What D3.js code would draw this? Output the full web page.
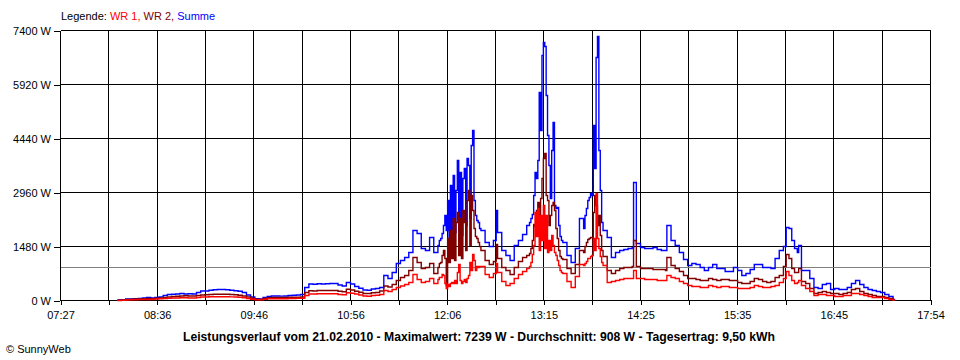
<!DOCTYPE html>
<html><head><meta charset="utf-8">
<script src="https://cdn.jsdelivr.net/npm/d3@7"></script>
<style>
html,body{margin:0;padding:0;background:#fff;}
svg{display:block;font-family:"Liberation Sans",Arial,sans-serif;}
</style></head><body>
<svg id="chart" width="960" height="360"></svg>
<script>
// ---- data ----
const times = [
 "08:08","08:11","08:14","08:17","08:20","08:23","08:26","08:29","08:32","08:35",
 "08:38","08:41","08:44","08:47","08:50","08:53","08:56","08:59","09:02","09:05",
 "09:08","09:11","09:14","09:17","09:20","09:23","09:26","09:29","09:32","09:35",
 "09:38","09:41","09:44","09:47","09:50","09:53","09:56","09:59","10:02","10:05",
 "10:08","10:11","10:14","10:17","10:20","10:23","10:26","10:29","10:32","10:35",
 "10:38","10:41","10:44","10:47","10:50","10:53","10:56","10:59","11:02","11:05",
 "11:08","11:11","11:14","11:17","11:20","11:23","11:26","11:29","11:32","11:35",
 "11:38","11:41","11:44","11:47","11:50","11:53","11:56","11:59",
 "12:00","12:01","12:02","12:03","12:04","12:05","12:06","12:07","12:08","12:09",
 "12:10","12:11","12:12","12:13","12:14","12:15","12:16","12:17","12:18","12:19",
 "12:20","12:21","12:22","12:23","12:24","12:25","12:26","12:27","12:28","12:29","12:30",
 "12:33","12:36","12:39","12:41","12:42","12:45","12:48","12:51","12:54","12:57","13:00","13:03",
 "13:05","13:06","13:07","13:08","13:09","13:10","13:11","13:12","13:13","13:14",
 "13:15","13:16","13:17","13:18","13:19","13:20","13:21","13:22","13:23","13:24",
 "13:25","13:26","13:27","13:28","13:29",
 "13:32","13:35","13:38","13:41","13:44",
 "13:45","13:46","13:47","13:48","13:49","13:50","13:51","13:52","13:53","13:54","13:55","13:56","13:57","13:58",
 "14:01","14:04","14:07","14:10","14:13","14:16","14:19","14:20","14:22","14:25",
 "14:28","14:31","14:34","14:37","14:40","14:43","14:44","14:47","14:50","14:53","14:56","14:59",
 "15:02","15:05","15:08","15:11","15:14","15:17","15:20","15:23","15:26","15:29",
 "15:32","15:35","15:38","15:41","15:44","15:47","15:50","15:53","15:56","15:59",
 "16:02","16:05","16:08","16:10","16:12","16:14","16:16","16:18","16:19","16:21",
 "16:24","16:27","16:30","16:33","16:36","16:39","16:42","16:45","16:48","16:51","16:54","16:57",
 "17:00","17:03","17:06","17:09","17:12","17:15","17:18","17:21","17:24","17:27","17:28"
];
const summe = [
 14,19,41,41,49,55,69,82,69,82, 96,137,164,173,178,192,178,184,178,219,
 260,260,282,293,302,302,293,282,266,252, 219,151,96,47,41,82,110,123,123,121,
 123,137,145,151,164,356,452,444,458,452, 458,466,466,425,397,493,452,384,334,288,
 282,315,329,356,685,603,767,1014,1096,1179, 1316,1919,1836,1425,1371,1727,1316,1508,
 1645,1699,1836,2056,2330,1919,2741,1590,3152,1699, 3426,1864,3015,3837,2138,3508,1782,3344,3618,2056,
 3892,3700,2248,4249,4660,2741,2330,2193,2138,1974,1919,
 1590,1480,1645,2467,1864,1371,1233,1096,1508,1645,1809,2056,
 2138,2248,2357,2878,3508,3344,3837,5701,4660,6715, 7072,6962,5619,4523,3700,2796,4112,4879,2604,2522,
 2549,2056,1754,1645,1590,
 1233,1042,1425,2248,1974,
 2330,2522,2741,2823,2933,2878,4797,3618,6661,7239,4112,3015,2138,1919,
 1727,1179,1316,1371,1398,1425,1453,3234,1562,1453, 1425,1425,1453,1398,1371,1371,2056,1645,1508,1316,1124,959,
 1014,987,905,822,905,987,877,877,795,795, 905,822,685,740,850,987,987,905,905,877,
 1151,1371,1480,2001,1974,1645,1425,1316,1508,822, 822,603,356,329,439,466,302,329,302,302,356,466,
 548,439,356,302,274,247,219,164,110,27,0
];
const wr2 = [
 5,14,27,36,41,41,47,55,47,60, 69,82,96,110,115,123,129,123,123,137,
 151,156,164,170,173,173,170,164,156,143, 123,96,60,33,27,55,74,82,82,82,
 82,88,90,90,96,219,269,260,274,274, 274,274,274,255,241,310,288,252,225,192,
 192,211,219,260,397,370,439,548,630,685, 822,1179,1042,877,905,1014,740,905,
 1014,1042,1233,1371,1151,411,1699,1042,1919,1151, 2248,1096,2138,2412,1233,2248,1151,2467,2138,1371,
 2741,3015,1508,2878,2467,1974,1754,1699,1590,1480,1371,
 1096,987,1069,1535,1151,905,822,713,905,1069,1179,1233,
 1288,1425,1645,2083,2028,2467,2686,2056,2796,3344, 3892,4029,2878,2741,2056,2330,2604,2686,2467,1974,
 1699,1371,1206,1151,1124,
 877,740,987,1371,1316,
 1480,1590,1672,1699,1727,1727,2412,2878,2604,2056,2330,1782,1371,1206,
 822,740,822,877,905,905,932,1645,932,877, 877,877,850,850,850,822,1179,959,877,795,685,603,
 603,576,548,548,603,576,548,576,576,548, 548,493,466,466,521,603,576,521,493,521,
 630,685,932,1261,1151,877,767,767,877,521, 466,329,192,219,247,219,192,192,164,192,219,302,
 329,247,192,164,137,110,110,82,55,14,0
];
const wr1 = [
 0,5,14,19,22,27,27,27,27,41, 47,55,60,69,69,74,74,69,69,82,
 96,96,101,104,104,104,101,99,96,88, 74,55,33,19,16,33,47,49,49,47,
 49,55,55,60,63,137,178,178,184,184, 184,184,184,164,156,211,200,178,151,123,
 115,137,143,164,274,247,302,356,397,439, 493,713,576,493,521,603,466,576,
 630,630,713,685,466,329,439,384,466,493, 466,548,466,767,987,548,466,521,576,493,
 603,685,1042,822,1261,1096,822,932,905,932,932,
 713,630,740,1014,767,521,411,466,603,713,795,877,
 932,1042,1261,1508,2412,1754,2522,1371,2330,1645, 2604,1425,2330,1316,1645,1371,1782,1508,1316,1233,
 1096,959,822,767,740,
 521,356,658,987,959,
 1014,1069,1151,1151,1206,1233,1699,1371,2933,1699,1425,1206,1042,959,
 493,521,548,576,603,603,603,822,603,603, 576,576,576,548,548,548,685,630,603,521,466,411,
 384,384,356,356,411,384,356,384,384,356, 356,329,329,329,356,411,384,356,356,384,
 411,493,603,795,685,548,466,493,548,411, 329,247,137,164,164,137,137,110,110,137,137,192,
 192,164,137,110,82,82,82,55,27,11,0
];
const xTickLabels = ["07:27","08:36","09:46","10:56","12:06","13:15","14:25","15:35","16:45","17:54"];
const yTickValues = [0,1480,2960,4440,5920,7400];
const average = 908;
const legendItems = [
  {text:"Legende: ", color:"#000000"},
  {text:"WR 1, ", color:"#ff0000"},
  {text:"WR 2, ", color:"#800000"},
  {text:"Summe", color:"#0000ff"}
];
const seriesDefs = [
  {name:"Summe", values:summe, color:"#0000ff"},
  {name:"WR 2", values:wr2, color:"#800000"},
  {name:"WR 1", values:wr1, color:"#ff0000"}
];
const titleText = "Leistungsverlauf vom 21.02.2010 - Maximalwert: 7239 W - Durchschnitt: 908 W - Tagesertrag: 9,50 kWh";
const copyrightText = "\u00A9 SunnyWeb";

// ---- drawing ----
const parseT = s => { const p = s.split(":").map(Number); return p[0]*60 + p[1]; };
const svg = d3.select("#chart");
const t0 = parseT(xTickLabels[0]), t1 = parseT(xTickLabels[xTickLabels.length-1]);
const x = d3.scaleLinear().domain([t0, t1]).range([60.5, 930.5]);
const y = d3.scaleLinear().domain([0, d3.max(yTickValues)]).range([300.5, 30.5]);
const nGrid = (xTickLabels.length - 1) * 2;
const gridT = d3.range(nGrid + 1).map(i => t0 + i * (t1 - t0) / nGrid);

const g = svg.append("g");
g.selectAll("line.hg").data(yTickValues).join("line")
  .attr("x1", x(t0)).attr("x2", x(t1)).attr("y1", d => y(d)).attr("y2", d => y(d))
  .attr("stroke", "#000").attr("stroke-width", 1).attr("shape-rendering", "crispEdges");
g.selectAll("line.vg").data(gridT).join("line")
  .attr("x1", d => x(d)).attr("x2", d => x(d)).attr("y1", y(d3.max(yTickValues))).attr("y2", y(0))
  .attr("stroke", "#000").attr("stroke-width", 1).attr("shape-rendering", "crispEdges");
g.append("line").attr("x1", x(t0)).attr("x2", x(t1)).attr("y1", y(average)).attr("y2", y(average))
  .attr("stroke", "#808080").attr("stroke-width", 1).attr("shape-rendering", "crispEdges");

const xAxis = d3.axisBottom(x).tickValues(gridT).tickSize(5).tickPadding(6)
  .tickFormat((d, i) => i % 2 === 0 ? xTickLabels[i/2] : "");
const xa = svg.append("g").attr("transform", "translate(0,300)").call(xAxis);
xa.select(".domain").remove();
xa.selectAll(".tick line").attr("stroke", "#000").attr("shape-rendering", "crispEdges");
xa.selectAll(".tick text").attr("fill", "#000").style("font-size", "11px")
  .style("font-family", '"Liberation Sans",Arial,sans-serif');

const yAxis = d3.axisLeft(y).tickValues(yTickValues).tickSize(6).tickPadding(3)
  .tickFormat(d => d + " W");
const ya = svg.append("g").call(yAxis);
ya.attr("transform", "translate(" + (x(t0) - 0.5) + ",0)");
ya.select(".domain").remove();
ya.selectAll(".tick line").attr("stroke", "#000").attr("shape-rendering", "crispEdges");
ya.selectAll(".tick text").attr("fill", "#000").style("font-size", "11px")
  .style("font-family", '"Liberation Sans",Arial,sans-serif');

const n = Math.min(times.length, summe.length, wr1.length, wr2.length);
const line = d3.line().x(d => x(d.t)).y(d => y(d.v)).curve(d3.curveStepAfter);
seriesDefs.forEach(s => {
  const pts = d3.range(n).map(i => ({t: parseT(times[i]), v: s.values[i]}));
  svg.append("path").datum(pts).attr("d", line)
    .attr("fill", "none").attr("stroke", s.color).attr("stroke-width", 1.4)
    .attr("stroke-linejoin", "miter");
});

const lt = svg.append("text").attr("x", 61).attr("y", 20).attr("style", "font-size:11px;white-space:pre");
lt.selectAll("tspan").data(legendItems).join("tspan")
  .attr("fill", d => d.color).text(d => d.text);

svg.append("text").attr("x", 479).attr("y", 341).attr("text-anchor", "middle")
  .style("font-size", "12px").style("font-weight", "bold")
  .attr("textLength", 592).attr("lengthAdjust", "spacingAndGlyphs")
  .text(titleText);
svg.append("text").attr("x", 6).attr("y", 353).style("font-size", "11px").text(copyrightText);
</script>
</body></html>
